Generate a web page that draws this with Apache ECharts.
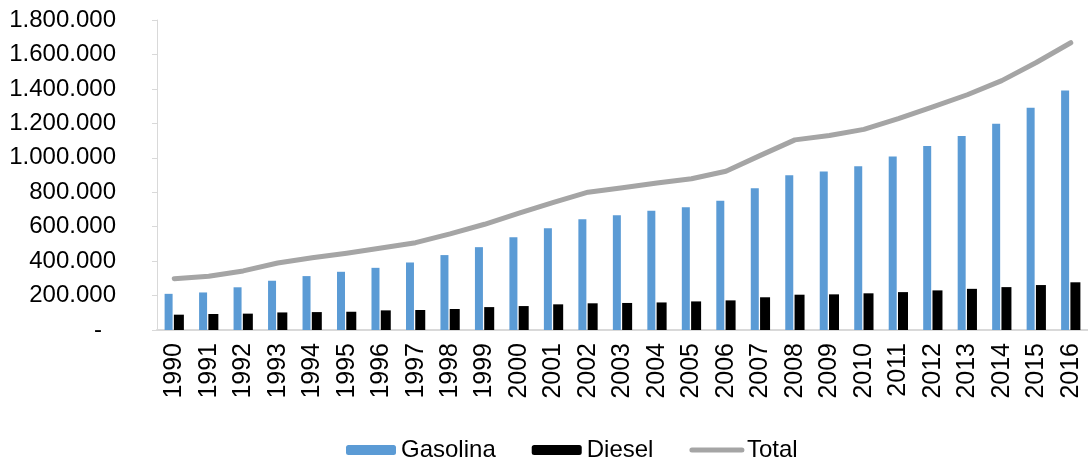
<!DOCTYPE html>
<html>
<head>
<meta charset="utf-8">
<script src="https://cdn.jsdelivr.net/npm/echarts@6/dist/echarts.min.js"></script>
<style>
  html, body { margin: 0; padding: 0; background: #ffffff; }
  #chart { width: 1088px; height: 462px; }
</style>
</head>
<body>
<div id="chart"></div>
<script>
// Annual fuel consumption, 1990–2016
const years = ['1990','1991','1992','1993','1994','1995','1996','1997','1998','1999',
  '2000','2001','2002','2003','2004','2005','2006','2007','2008','2009',
  '2010','2011','2012','2013','2014','2015','2016'];

const gasolina = [210000, 218000, 248000, 286000, 313000, 338000, 361000, 392000, 435000, 481000,
  539000, 591000, 643000, 667000, 692000, 713000, 750000, 823000, 899000, 920000,
  951000, 1007000, 1068000, 1126000, 1198000, 1291000, 1390000];

const diesel = [89000, 93000, 95000, 102000, 104000, 106000, 114000, 116000, 122000, 133000,
  139000, 149000, 155000, 157000, 160000, 166000, 172000, 190000, 205000, 207000,
  213000, 220000, 230000, 239000, 249000, 261000, 277000];

const total = [298000, 312000, 343000, 389000, 419000, 446000, 476000, 507000, 558000, 614000,
  679000, 741000, 800000, 826000, 853000, 878000, 922000, 1014000, 1104000, 1129000,
  1165000, 1227000, 1296000, 1366000, 1448000, 1553000, 1668000];

const seriesNames = ['Gasolina', 'Diesel', 'Total'];

// Thousands separated with dots; zero shown as a dash
function fmt(v) {
  if (v === 0) return '{dash|-}';
  return String(Math.round(v)).replace(/\B(?=(\d{3})+(?!\d))/g, '.');
}

const FONT = 'Liberation Sans, Arial, sans-serif';
const GREY = '#A5A5A5';
const chart = echarts.init(document.getElementById('chart'), null, { renderer: 'canvas' });

chart.setOption({
  animation: false,
  backgroundColor: '#ffffff',
  grid: { left: 157, right: -7, top: 20, bottom: 132, containLabel: false },
  legend: {
    data: [
      { name: seriesNames[0] },
      { name: seriesNames[1] },
      { name: seriesNames[2], itemStyle: { opacity: 0 }, lineStyle: { color: GREY, width: 5, cap: 'round' } }
    ],
    left: 341,
    top: 433,
    itemWidth: 50,
    itemHeight: 10,
    itemGap: 36,
    textStyle: { fontFamily: FONT, fontSize: 24, color: '#000000' }
  },
  xAxis: {
    type: 'category',
    data: years,
    axisLine: { show: true, lineStyle: { color: '#d9d9d9', width: 2 } },
    axisTick: { show: false },
    axisLabel: {
      rotate: 90,
      margin: 13,
      interval: 0,
      fontFamily: FONT,
      fontSize: 25,
      color: '#000000'
    },
    splitLine: { show: false }
  },
  yAxis: {
    type: 'value',
    min: 0,
    max: 1800000,
    interval: 200000,
    axisLine: { show: true, lineStyle: { color: '#d9d9d9', width: 1 } },
    axisTick: { show: true, length: 5, lineStyle: { color: '#d9d9d9' } },
    axisLabel: {
      margin: 41,
      fontFamily: FONT,
      fontSize: 24,
      color: '#000000',
      formatter: fmt,
      rich: {
        dash: { fontFamily: FONT, fontSize: 24, color: '#000000', padding: [0, 14, 0, 0] }
      }
    },
    splitLine: { show: false }
  },
  series: [
    {
      name: seriesNames[0],
      type: 'bar',
      data: gasolina,
      barWidth: 8,
      barGap: '16%',
      itemStyle: { color: '#5B9BD5' }
    },
    {
      name: seriesNames[1],
      type: 'bar',
      data: diesel,
      barWidth: 10,
      itemStyle: { color: '#000000' }
    },
    {
      name: seriesNames[2],
      type: 'line',
      data: total,
      symbol: 'none',
      z: 5,
      lineStyle: { color: GREY, width: 5, cap: 'round', join: 'round' },
      itemStyle: { color: GREY }
    }
  ]
});
</script>
</body>
</html>
